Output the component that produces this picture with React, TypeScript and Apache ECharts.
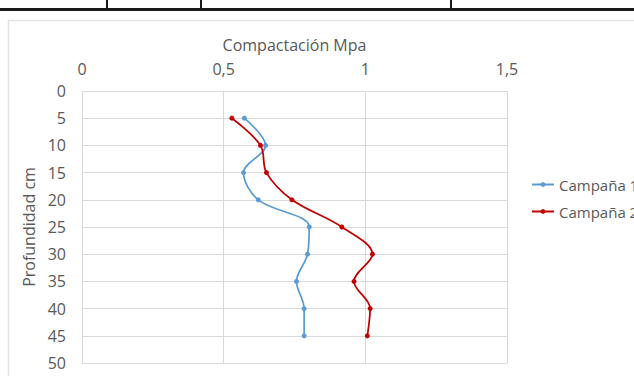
import React, { useEffect, useRef } from "react";
import * as echarts from "echarts";

// Profundidad (cm) de cada lectura
const depths = [5, 10, 15, 20, 25, 30, 35, 40, 45];
// Resistencia a la compactación (MPa) por campaña
const campana1 = [0.573, 0.648, 0.57, 0.622, 0.802, 0.796, 0.757, 0.784, 0.784];
const campana2 = [0.529, 0.63, 0.651, 0.741, 0.917, 1.025, 0.96, 1.017, 1.007];
const seriesNames = ["Campaña 1", "Campaña 2"];
const seriesColors = ["#5B9BD5", "#C00000"];

const FONT = "Open Sans";
const TEXT = "#595959";
const GRID = "#D9D9D9";
const FS = 16;

export default function App() {
  const ref = useRef<HTMLDivElement>(null);

  useEffect(() => {
    if (!ref.current) return;
    const chart = echarts.init(ref.current, undefined, { renderer: "svg" });

    const toPairs = (vals: number[]) => vals.map((v, i) => [v, depths[i]]);

    chart.setOption({
      animation: false,
      backgroundColor: "#ffffff",
      textStyle: { fontFamily: FONT, color: TEXT },
      graphic: [
        // table rule above the chart
        { type: "rect", shape: { x: 0, y: 8, width: 720, height: 3 }, style: { fill: "#1a1a1a" } },
        { type: "rect", shape: { x: 106, y: 0, width: 2, height: 9 }, style: { fill: "#1a1a1a" } },
        { type: "rect", shape: { x: 200, y: 0, width: 2, height: 9 }, style: { fill: "#1a1a1a" } },
        { type: "rect", shape: { x: 450, y: 0, width: 2, height: 9 }, style: { fill: "#1a1a1a" } },
        // chart frame
        {
          type: "rect",
          shape: { x: 8.5, y: 20.5, width: 700, height: 400 },
          style: { fill: "none", stroke: "#E3E3E3", lineWidth: 1.5 },
        },
      ],
      grid: { left: 82, top: 91, width: 425, height: 272, containLabel: false },
      legend: {
        orient: "vertical",
        left: 531,
        top: 177,
        padding: 0,
        itemWidth: 22,
        itemHeight: 6,
        itemGap: 12,
        textStyle: { color: TEXT, fontSize: 15, fontFamily: FONT },
        data: seriesNames,
      },
      xAxis: {
        type: "value",
        position: "top",
        min: 0,
        max: 1.5,
        interval: 0.5,
        name: "Compactación Mpa",
        nameLocation: "middle",
        nameGap: 38,
        nameTextStyle: { color: TEXT, fontSize: FS, fontFamily: FONT },
        axisLine: { show: false },
        axisTick: { show: false },
        axisLabel: {
          color: TEXT,
          fontSize: FS,
          fontFamily: FONT,
          margin: 14,
          formatter: (v: number) => String(v).replace(".", ","),
        },
        splitLine: { show: true, lineStyle: { color: GRID, width: 1 } },
      },
      yAxis: {
        type: "value",
        inverse: true,
        min: 0,
        max: 50,
        interval: 5,
        name: "Profundidad cm",
        nameLocation: "middle",
        nameGap: 42,
        nameRotate: 90,
        nameTextStyle: { color: TEXT, fontSize: FS, fontFamily: FONT },
        axisLine: { show: false },
        axisTick: { show: false },
        axisLabel: { color: TEXT, fontSize: FS, fontFamily: FONT, margin: 16 },
        splitLine: { show: true, lineStyle: { color: GRID, width: 1 } },
      },
      series: [campana1, campana2].map((vals, i) => ({
        name: seriesNames[i],
        type: "line",
        data: toPairs(vals),
        smooth: 0.35,
        symbol: "circle",
        symbolSize: 5,
        itemStyle: { color: seriesColors[i] },
        lineStyle: { color: seriesColors[i], width: 1.75 },
      })),
    });

    return () => chart.dispose();
  }, []);

  return (
    <div
      ref={ref}
      style={{ position: "fixed", left: 0, top: 0, width: 720, height: 376 }}
    />
  );
}
